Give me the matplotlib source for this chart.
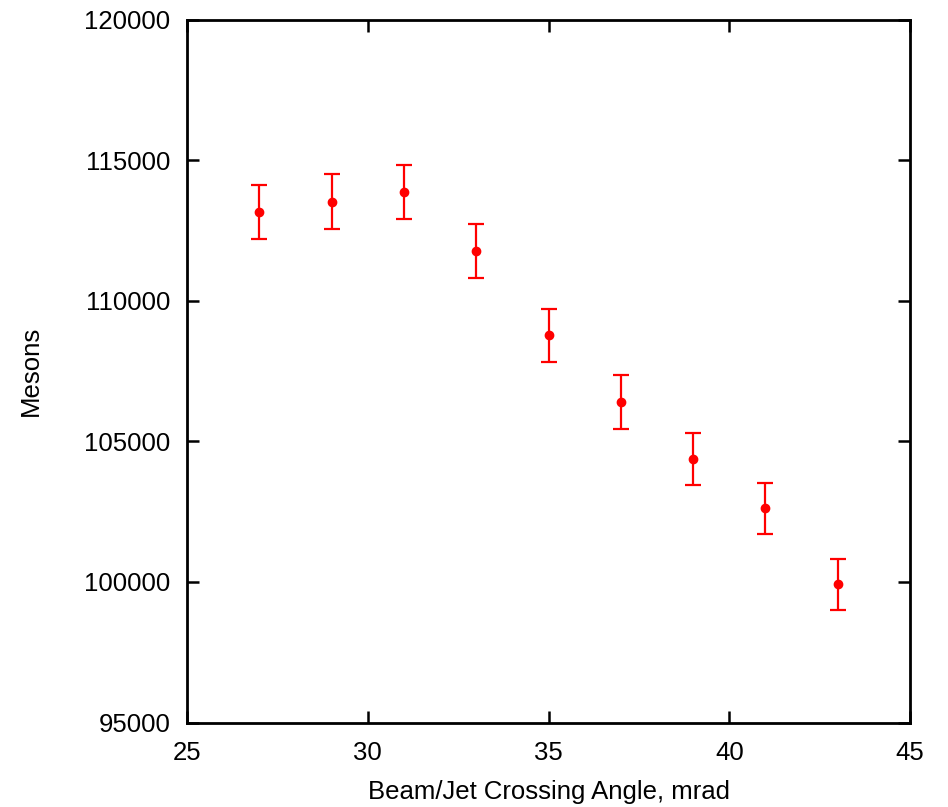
import matplotlib
matplotlib.use("Agg")
import matplotlib.pyplot as plt

plt.rcParams['font.family'] = ['Liberation Sans', 'DejaVu Sans']

# Crossing angle (mrad), meson counts and their uncertainties
angles = [27, 29, 31, 33, 35, 37, 39, 41, 43]
mesons = [113154, 113524, 113866, 111780, 108766, 106406, 104363, 102619, 99915]
errors = [968, 972, 972, 961, 937, 955, 933, 905, 908]

x_ticks = [25, 30, 35, 40, 45]
y_ticks = [95000, 100000, 105000, 110000, 115000, 120000]

fig = plt.figure(figsize=(9.48, 8.07), dpi=100)
ax = fig.add_axes([187 / 948, 1 - 722.5 / 807, (910 - 187) / 948, (722.5 - 19.5) / 807])

ax.errorbar(angles, mesons, yerr=errors, fmt='o', color='#ff0000',
            ecolor='#ff0000', markersize=6, elinewidth=1.6, capsize=5.5,
            capthick=1.6)

ax.set_xlim(25, 45)
ax.set_ylim(95000, 120000)
ax.set_xticks(x_ticks)
ax.set_yticks(y_ticks)
ax.set_xticklabels([str(t) for t in x_ticks])
ax.set_yticklabels([str(t) for t in y_ticks])

for s in ax.spines.values():
    s.set_linewidth(2.0)
    s.set_color('black')

ax.tick_params(axis='both', which='major', direction='in', length=8.5,
               width=1.8, labelsize=18.5, top=True, right=True)
ax.tick_params(axis='y', pad=12)
ax.tick_params(axis='x', pad=13)

ax.set_xlabel('Beam/Jet Crossing Angle, mrad', fontsize=18.5)
ax.set_ylabel('Mesons', fontsize=18.5)
ax.xaxis.set_label_coords(0.5, -0.082)
ax.yaxis.set_label_coords(-0.200, 0.5)

fig.savefig('out.png', dpi=100)
